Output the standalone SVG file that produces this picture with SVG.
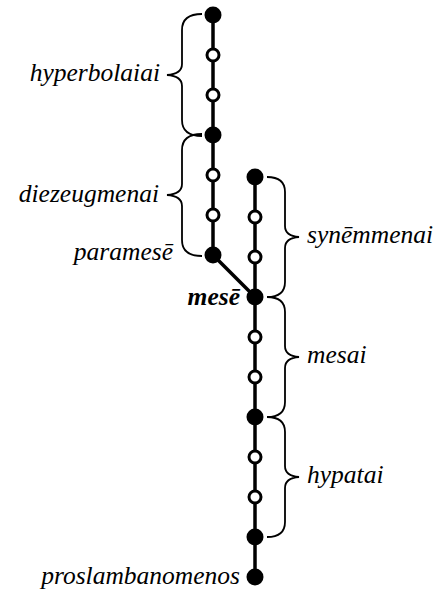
<svg xmlns="http://www.w3.org/2000/svg" width="444" height="593" viewBox="0 0 444 593">
<style>
.line{stroke:#000;stroke-width:3.5;fill:none}
.brace{stroke:#000;stroke-width:1.8;fill:none}
.full{fill:#000}
.open{fill:#fff;stroke:#000;stroke-width:3}
</style>
<rect width="444" height="593" fill="#fff"/>
<g id="connectors">
<line class="line" x1="213" y1="15" x2="213" y2="255"/>
<line class="line" x1="255" y1="177" x2="255" y2="577"/>
<line class="line" x1="213" y1="255" x2="255" y2="297"/>
</g>
<g id="braces">
<path class="brace" d="M202,14 Q182,14 182,30 L182,64 Q182,74 167,75 Q182,76 182,86 L182,120 Q182,136 202,136"/>
<path class="brace" d="M202,134 Q182,134 182,150 L182,184 Q182,194 167,195 Q182,196 182,206 L182,240 Q182,256 202,256"/>
<path class="brace" d="M267,177 Q285,177 285,192 L285,226 Q285,236 299,237 Q285,238 285,248 L285,282 Q285,297 267,297"/>
<path class="brace" d="M267,297 Q285,297 285,312 L285,346 Q285,356 299,357 Q285,358 285,368 L285,402 Q285,417 267,417"/>
<path class="brace" d="M267,417 Q285,417 285,432 L285,466 Q285,476 299,477 Q285,478 285,488 L285,522 Q285,537 267,537"/>
</g>
<g id="n1"><circle class="full" cx="213" cy="15" r="8.5"/></g>
<g id="n2"><circle class="open" cx="213" cy="55" r="6"/></g>
<g id="n3"><circle class="open" cx="213" cy="95" r="6"/></g>
<g id="n4"><circle class="full" cx="213" cy="135" r="8.5"/></g>
<g id="n5"><circle class="open" cx="213" cy="175" r="6"/></g>
<g id="n6"><circle class="open" cx="213" cy="215" r="6"/></g>
<g id="paramese"><circle class="full" cx="213" cy="255" r="8.5"/></g>
<g id="s1"><circle class="full" cx="255" cy="177" r="8.5"/></g>
<g id="s2"><circle class="open" cx="255" cy="217" r="6"/></g>
<g id="s3"><circle class="open" cx="255" cy="257" r="6"/></g>
<g id="mese"><circle class="full" cx="255" cy="297" r="8.5"/></g>
<g id="m1"><circle class="open" cx="255" cy="337" r="6"/></g>
<g id="m2"><circle class="open" cx="255" cy="377" r="6"/></g>
<g id="h0"><circle class="full" cx="255" cy="417" r="8.5"/></g>
<g id="h1"><circle class="open" cx="255" cy="457" r="6"/></g>
<g id="h2"><circle class="open" cx="255" cy="497" r="6"/></g>
<g id="h3"><circle class="full" cx="255" cy="537" r="8.5"/></g>
<g id="proslambanomenos"><circle class="full" cx="255" cy="577" r="8.5"/></g>
<g id="labels" font-family="Liberation Serif, serif" font-style="italic" font-size="25.5" fill="#000">
<text x="160" y="81" text-anchor="end">hyperbolaiai</text>
<text x="159" y="202" text-anchor="end">diezeugmenai</text>
<text x="173" y="260" text-anchor="end">paramesē</text>
<text font-weight="bold" x="240" y="305" text-anchor="end">mesē</text>
<text x="307" y="243">synēmmenai</text>
<text x="307" y="363">mesai</text>
<text x="307" y="483">hypatai</text>
<text x="240" y="584" text-anchor="end">proslambanomenos</text>
</g>
</svg>
